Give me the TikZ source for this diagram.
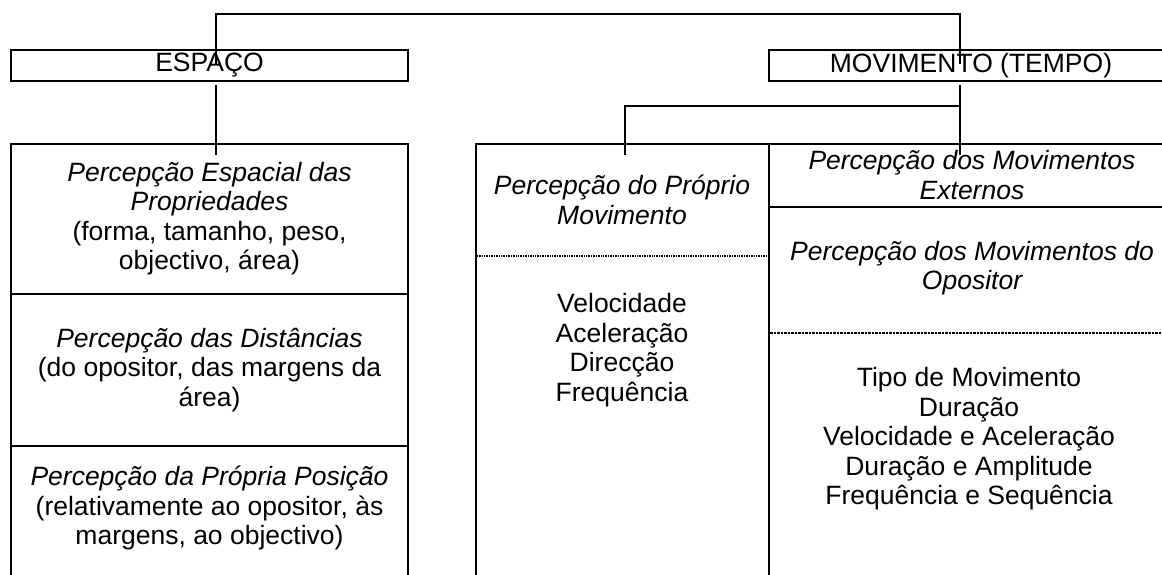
\documentclass[tikz,border=0pt]{standalone}
\usepackage{fontspec}
\setmainfont{Liberation Sans}
\begin{document}
\begin{tikzpicture}[x=1pt,y=-1pt,
  hbox/.style={draw, line width=1.5pt, rectangle, inner sep=0pt, minimum height=31pt,
    font=\fontsize{26.5}{29.5}\selectfont},
  txt/.style={align=center, inner sep=0pt, font=\fontsize{26.5}{29.5}\selectfont},
  conn/.style={line width=1.5pt},
  topconn/.style={line width=1.2pt},
  rule/.style={line width=1.5pt},
  dotrule/.style={line width=1.4pt, dash pattern=on 1pt off 0.7pt},
  dashrule/.style={line width=1.2pt, dash pattern=on 2.5pt off 1pt}]
\useasboundingbox (0,0) rectangle (1162,575);
\clip (0,0) rectangle (1162,575);

% header boxes
\node[hbox, minimum width=397pt] (esp) at (209.5,65.5) {ESPAÇO};
\node[hbox, minimum width=404pt] (mov) at (971,65.5) {MOVIMENTO (TEMPO)};

% left column cells
\draw[rule] (11,590) -- (11,144) -- (408,144) -- (408,590);
\draw[rule] (11,294) -- (408,294);
\draw[rule] (11,446) -- (408,446);

% right table
\draw[rule] (476,590) -- (476,144) -- (1180,144);
\draw[rule] (769,144) -- (769,590);
\draw[rule] (769,207) -- (1180,207);
\draw[dotrule] (477,256) -- (768,256);
\draw[dashrule] (770,333) -- (1180,333);

% texts
\node[txt] (t1) at (209.5,218.5) {\itshape Percepção Espacial das\\\itshape Propriedades\\(forma, tamanho, peso,\\objectivo, área)};
\node[txt] (t2) at (209.5,370) {\itshape Percepção das Distâncias\\(do opositor, das margens da\\área)};
\node[txt] (t3) at (209.5,508) {\itshape Percepção da Própria Posição\\(relativamente ao opositor, às\\margens, ao objectivo)};
\node[txt] (m1) at (622,200) {\itshape Percepção do Próprio\\\itshape Movimento};
\node[txt] (m2) at (622,350) {Velocidade\\Aceleração\\Direcção\\Frequência};
\node[txt] (r1) at (972,175) {\itshape Percepção dos Movimentos\\\itshape Externos};
\node[txt] (r2) at (972,268) {\itshape Percepção dos Movimentos do\\\itshape Opositor};
\node[txt] (r3) at (969,439) {Tipo de Movimento\\Duração\\Velocidade e Aceleração\\Duração e Amplitude\\Frequência e Sequência};

% connector end points
\coordinate (espIn) at (216,64);
\coordinate (movIn) at (960,64);
\coordinate (espOut) at (216,85);
\coordinate (movOut) at (960,85);
\coordinate (leftIn) at (216,155);
\coordinate (midIn) at (625,155);
\coordinate (rightIn) at (960,155);
\coordinate (split) at (960,106);

% connectors
\draw[topconn] (espIn) -- (espIn |- 0,14) -- (movIn |- 0,14) -- (movIn);
\draw[conn] (espOut) -- (leftIn);
\draw[conn] (movOut) -- (rightIn);
\draw[conn] (split) -- (midIn |- split) -- (midIn);
\end{tikzpicture}
\end{document}
